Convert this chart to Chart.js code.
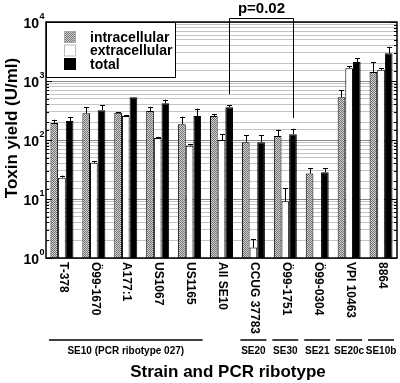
<!DOCTYPE html>
<html>
<head>
<meta charset="utf-8">
<script src="https://cdn.jsdelivr.net/npm/chart.js@4/dist/chart.umd.min.js"></script>
<style>
  body { margin: 0; background: #fff; }
  #wrap { width: 400px; height: 383px; }
</style>
</head>
<body>
<div id="wrap"><canvas id="toxinChart" width="400" height="383"></canvas></div>
<script>
// strains and values (U/ml)
const strains = ['T-378', 'Ö99-1670', 'A177:1', 'US1067', 'US1165', 'All SE10',
  'CCUG 37783', 'Ö99-1751', 'Ö99-0304', 'VPI 10463', '8864'];
const intracellular   = [195, 285, 290, 310, 185, 255, 92, 117, 27, 530, 1420];
const intracellularSD = [25, 75, 7, 55, 65, 20, 28, 33, 6, 170, 680];
const extracellular   = [23, 41, 255, 108, 80, 100, 1.5, 9.2, null, 1650, 1550];
const extracellularSD = [2, 3, 8, 5, 4, 25, 0.6, 6, null, 150, 100];
const total           = [210, 320, 530, 420, 255, 360, 92, 125, 28.5, 2100, 2950];
const totalSD         = [35, 70, 0, 60, 85, 30, 28, 30, 4.5, 350, 850];
const yPowers = [0, 1, 2, 3, 4];
const ribotypes = [
  { label: 'SE10 (PCR ribotype 027)', first: 0, last: 4 },
  { label: 'SE20', first: 6, last: 6 },
  { label: 'SE30', first: 7, last: 7 },
  { label: 'SE21', first: 8, last: 8 },
  { label: 'SE20c', first: 9, last: 9 },
  { label: 'SE10b', first: 10, last: 10 }
];
// p-value bracket between All SE10 total and Ö99-1751 total
const bracket = { text: 'p=0.02', from: 5, to: 7, fromValue: 600, toValue: 235, topValue: 11700 };

const FONT = '"Liberation Sans", Arial, sans-serif';

function checker() {
  const c = document.createElement('canvas');
  c.width = 2; c.height = 2;
  const g = c.getContext('2d');
  g.fillStyle = '#d4d4d4'; g.fillRect(0, 0, 2, 2);
  g.fillStyle = '#707070'; g.fillRect(0, 0, 1, 1); g.fillRect(1, 1, 1, 1);
  return g.createPattern(c, 'repeat');
}
const hatch = checker();

function isPow10(v) {
  const l = Math.log10(v);
  return Math.abs(l - Math.round(l)) < 1e-9;
}

function line(ctx, x1, y1, x2, y2) {
  ctx.beginPath(); ctx.moveTo(x1, y1); ctx.lineTo(x2, y2); ctx.stroke();
}

const overlay = {
  id: 'overlay',
  afterDatasetsDraw(chart) {
    const ctx = chart.ctx, a = chart.chartArea;
    const xs = chart.scales.x, ys = chart.scales.y;
    ctx.save();
    ctx.strokeStyle = '#000';
    ctx.fillStyle = '#000';

    // error bars
    ctx.lineWidth = 1;
    chart.data.datasets.forEach((ds, i) => {
      chart.getDatasetMeta(i).data.forEach((bar, j) => {
        const v = ds.data[j], sd = ds.sd[j];
        if (v == null || !sd) return;
        const y0 = ys.getPixelForValue(v), y1 = ys.getPixelForValue(v + sd);
        const bx = Math.round(bar.x) + 0.5;
        line(ctx, bx, y0, bx, y1);
        line(ctx, bx - 2.5, Math.round(y1) + 0.5, bx + 2.5, Math.round(y1) + 0.5);
      });
    });

    // frame and inner ticks
    ctx.lineWidth = 1.5;
    ctx.strokeRect(a.left, a.top, a.right - a.left, a.bottom - a.top);
    ctx.lineWidth = 1;
    ys.ticks.forEach(t => {
      const py = Math.round(ys.getPixelForValue(t.value)) + 0.5;
      const len = isPow10(t.value) ? 6 : 3;
      line(ctx, a.left, py, a.left + len, py);
      line(ctx, a.right - len, py, a.right, py);
    });

    // y tick labels with superscripts
    yPowers.forEach(p => {
      const py = ys.getPixelForValue(Math.pow(10, p));
      ctx.textAlign = 'right';
      ctx.textBaseline = 'middle';
      ctx.font = 'bold 14px ' + FONT;
      ctx.fillText('10', 39, py + 2);
      ctx.textAlign = 'left';
      ctx.font = 'bold 9px ' + FONT;
      ctx.fillText(String(p), 39.5, py - 5);
    });

    // legend
    const lx = a.left, ly = a.top;
    ctx.fillStyle = '#fff';
    ctx.fillRect(lx, ly, 129, 55);
    ctx.lineWidth = 1;
    ctx.strokeRect(lx + 0.5, ly + 0.5, 129, 55);
    chart.data.datasets.forEach((ds, i) => {
      const ry = ly + 15 + i * 13.5;
      ctx.fillStyle = ds.backgroundColor;
      ctx.fillRect(lx + 18, ry - 6, 12, 12);
      ctx.strokeStyle = i === 1 ? '#bbb' : ds.backgroundColor === hatch ? '#aaa' : '#000';
      ctx.strokeRect(lx + 18.5, ry - 5.5, 11, 11);
      ctx.fillStyle = '#000';
      ctx.font = 'bold 14px ' + FONT;
      ctx.textAlign = 'left';
      ctx.textBaseline = 'middle';
      ctx.fillText(ds.label, lx + 44, ry + 1);
    });
    ctx.strokeStyle = '#000';

    // p-value bracket
    const tm = chart.getDatasetMeta(2).data;
    const bx1 = Math.round(tm[bracket.from].x) + 0.5, bx2 = Math.round(tm[bracket.to].x) + 0.5;
    const by = Math.round(ys.getPixelForValue(bracket.topValue)) + 0.5;
    ctx.beginPath();
    ctx.moveTo(bx1, ys.getPixelForValue(bracket.fromValue));
    ctx.lineTo(bx1, by);
    ctx.lineTo(bx2, by);
    ctx.lineTo(bx2, ys.getPixelForValue(bracket.toValue));
    ctx.stroke();
    ctx.font = 'bold 15px ' + FONT;
    ctx.textAlign = 'center';
    ctx.textBaseline = 'middle';
    ctx.fillText(bracket.text, (bx1 + bx2) / 2, by - 10);

    // rotated strain labels
    ctx.font = 'bold 12px ' + FONT;
    strains.forEach((s, j) => {
      ctx.save();
      ctx.translate(xs.getPixelForValue(j) + 1, a.bottom + 4);
      ctx.rotate(Math.PI / 2);
      ctx.textAlign = 'left';
      ctx.textBaseline = 'middle';
      ctx.fillText(s, 0, 0);
      ctx.restore();
    });

    // ribotype groups
    ctx.lineWidth = 1.5;
    ctx.font = 'bold 10px ' + FONT;
    ribotypes.forEach(g => {
      const x1 = xs.getPixelForValue(g.first) - 13, x2 = xs.getPixelForValue(g.last) + 13;
      line(ctx, x1, 340, x2, 340);
      ctx.textAlign = 'center';
      ctx.textBaseline = 'middle';
      ctx.fillText(g.label, (x1 + x2) / 2, 351);
    });

    // axis titles
    ctx.font = 'bold 17px ' + FONT;
    ctx.fillText('Strain and PCR ribotype', 228, 372);
    ctx.save();
    ctx.translate(12, 128);
    ctx.rotate(-Math.PI / 2);
    ctx.fillText('Toxin yield (U/ml)', 0, 0);
    ctx.restore();

    ctx.restore();
  }
};

new Chart(document.getElementById('toxinChart'), {
  type: 'bar',
  data: {
    labels: strains,
    datasets: [
      { label: 'intracellular', data: intracellular, sd: intracellularSD, backgroundColor: hatch },
      { label: 'extracellular', data: extracellular, sd: extracellularSD, backgroundColor: '#ffffff' },
      { label: 'total', data: total, sd: totalSD, backgroundColor: '#000000' }
    ]
  },
  options: {
    responsive: false,
    animation: false,
    layout: { padding: { top: 22, right: 3, bottom: 125, left: 0 } },
    datasets: {
      bar: { barPercentage: 1, categoryPercentage: 0.72, borderColor: '#000', borderWidth: 1 }
    },
    plugins: { legend: { display: false }, tooltip: { enabled: false } },
    scales: {
      x: {
        grid: { display: false },
        border: { display: false },
        ticks: { display: false },
        afterFit: s => { s.height = 0; }
      },
      y: {
        type: 'logarithmic',
        min: 1,
        max: 10000,
        border: { display: false },
        grid: {
          drawTicks: false,
          lineWidth: 1,
          color: c => (c.tick && isPow10(c.tick.value)) ? '#8a8a8a' : '#c4c4c4'
        },
        ticks: { display: false, autoSkip: false },
        afterFit: s => { s.width = 46; }
      }
    }
  },
  plugins: [overlay]
});
</script>
</body>
</html>
